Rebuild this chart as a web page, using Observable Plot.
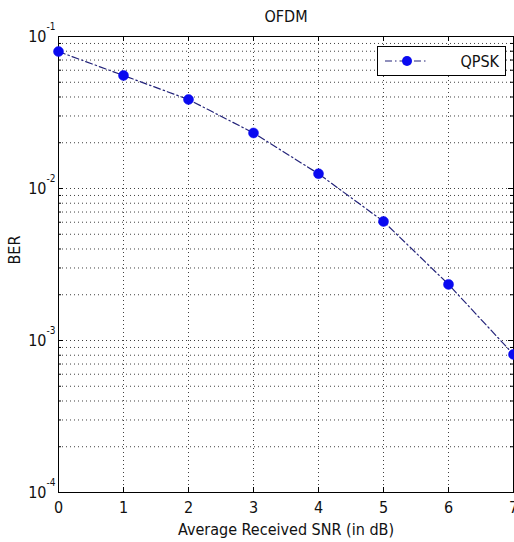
<!DOCTYPE html>
<html>
<head>
<meta charset="utf-8">
<script src="https://cdn.jsdelivr.net/npm/d3@7"></script>
<script src="https://cdn.jsdelivr.net/npm/@observablehq/plot@0.6"></script>
<style>
  html, body { margin: 0; padding: 0; background: #fff; }
  #wrap { position: relative; width: 514px; height: 542px; overflow: hidden; }
  #legend { position: absolute; left: 377px; top: 46px; }
</style>
</head>
<body>
<div id="wrap"></div>
<script>
// ---- data ----
const snr = [0, 1, 2, 3, 4, 5, 6, 7];
const ber = [0.0796, 0.0554, 0.0385, 0.0232, 0.0125, 0.00607, 0.00234, 0.00081];
const xTicks = [0, 1, 2, 3, 4, 5, 6, 7];
const yDecades = [1e-4, 1e-3, 1e-2, 1e-1];
const yExponents = ["-4", "-3", "-2", "-1"];
const minorMultipliers = [2, 3, 4, 5, 6, 7, 8, 9];
const seriesName = "QPSK";
const titleText = "OFDM";
const xLabel = "Average Received SNR (in dB)";
const yLabel = "BER";

const FONT = "'Liberation Sans Narrow', 'Arial Narrow', 'DejaVu Sans Condensed', 'Liberation Sans', Arial, sans-serif";
const lineColor = "#23237a";
const dotColor = "#0a0af0";
const dashPattern = "7,3,1.5,3";

const data = snr.map((s, i) => ({snr: s, ber: ber[i]}));
const yMinor = yDecades.slice(0, -1).flatMap(d => minorMultipliers.map(m => d * m));
const yGrid = yDecades.slice(1, -1).concat(yMinor);

// tick lengths in data units (65 px per dB, 152 px per decade)
const pxX = 1 / 65;
const pxYf = px => Math.pow(10, px / 152);

const W = 514, H = 542;
const chart = Plot.plot({
  width: W,
  height: H,
  marginLeft: 58,
  marginRight: 1,
  marginTop: 36,
  marginBottom: 50,
  style: {background: "#fff", fontFamily: FONT, overflow: "visible"},
  x: {domain: [0, 7], axis: null},
  y: {type: "log", domain: [1e-4, 1e-1], axis: null},
  marks: [
    // grid
    Plot.ruleY(yGrid, {y: d => d, stroke: "#000", strokeOpacity: 0.75, strokeDasharray: "1,3"}),
    Plot.ruleX(xTicks.slice(1, -1), {x: d => d, stroke: "#000", strokeOpacity: 0.75, strokeDasharray: "1,3"}),
    // inner ticks
    Plot.ruleY(yDecades, {y: d => d, x1: 0, x2: 5 * pxX, stroke: "#000"}),
    Plot.ruleY(yMinor, {y: d => d, x1: 0, x2: 3 * pxX, stroke: "#000"}),
    Plot.ruleY(yDecades, {y: d => d, x1: 7 - 5 * pxX, x2: 7, stroke: "#000"}),
    Plot.ruleY(yMinor, {y: d => d, x1: 7 - 3 * pxX, x2: 7, stroke: "#000"}),
    Plot.ruleX(xTicks, {x: d => d, y1: 1e-4, y2: 1e-4 * pxYf(5), stroke: "#000"}),
    Plot.ruleX(xTicks, {x: d => d, y1: 1e-1, y2: 1e-1 / pxYf(5), stroke: "#000"}),
    Plot.frame({stroke: "#000", strokeWidth: 1}),
    // series
    Plot.line(data, {x: "snr", y: "ber", stroke: lineColor, strokeWidth: 1.2, strokeDasharray: dashPattern}),
    Plot.dot(data, {x: "snr", y: "ber", r: 5, fill: dotColor, stroke: dotColor, strokeWidth: 0.5}),
    // tick labels
    Plot.text(xTicks, {x: d => d, y: 1e-4, text: d => String(d), dy: 15, lineAnchor: "middle", fontSize: 16, fill: "#111"}),
    Plot.text(yDecades, {x: 0, y: d => d, text: () => "10", textAnchor: "end", dx: -12, dy: 0, lineAnchor: "middle", fontSize: 16, fill: "#111"}),
    Plot.text(yDecades, {x: 0, y: d => d, text: (d, i) => yExponents[i], textAnchor: "start", dx: -12, dy: -10, lineAnchor: "middle", fontSize: 10, fill: "#111"}),
    // titles
    Plot.text([titleText], {frameAnchor: "top", dy: -20, lineAnchor: "middle", fontSize: 16, fill: "#111"}),
    Plot.text([xLabel], {frameAnchor: "bottom", dy: 37, lineAnchor: "middle", fontSize: 16, fill: "#111"}),
    Plot.text([yLabel], {frameAnchor: "left", dx: -44, rotate: -90, lineAnchor: "middle", fontSize: 16, fill: "#111"})
  ]
});
document.getElementById("wrap").appendChild(chart);

// legend (overlay)
const lw = 129, lh = 30;
const leg = d3.create("svg").attr("id", "legend").attr("width", lw).attr("height", lh)
  .style("font-family", FONT);
leg.append("rect").attr("x", 0.5).attr("y", 0.5).attr("width", lw - 1).attr("height", lh - 1)
  .attr("fill", "#fff").attr("stroke", "#000");
leg.append("line").attr("x1", 8).attr("x2", 51).attr("y1", 15).attr("y2", 15)
  .attr("stroke", lineColor).attr("stroke-width", 1.2).attr("stroke-dasharray", dashPattern);
leg.append("circle").attr("cx", 30).attr("cy", 15).attr("r", 5).attr("fill", dotColor);
leg.append("text").attr("x", 122).attr("y", 15).attr("dy", "0.35em").attr("text-anchor", "end")
  .attr("font-size", 16).attr("fill", "#111").text(seriesName);
document.getElementById("wrap").appendChild(leg.node());
</script>
</body>
</html>
